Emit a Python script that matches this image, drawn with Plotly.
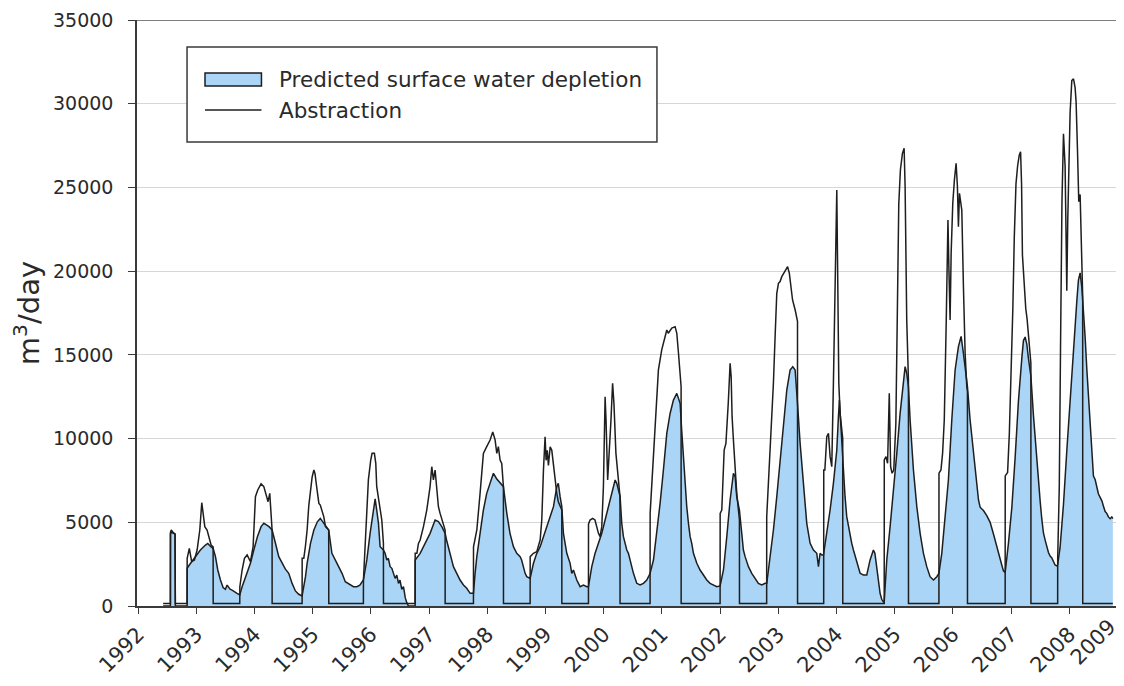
import plotly.graph_objects as go

# ---- data (decimal year, m3/day) ----
abstraction_year = [
    1992.430, 1992.555, 1992.556, 1992.570, 1992.600, 1992.635, 1992.640,
    1992.842, 1992.843, 1992.880, 1992.920, 1992.968, 1993.014, 1993.060, 1993.094, 1993.117,
    1993.146, 1993.185, 1993.214, 1993.254, 1993.289, 1993.290,
    1993.747, 1993.748, 1993.787, 1993.827, 1993.873, 1993.930, 1993.976, 1994.016, 1994.056,
    1994.113, 1994.160, 1994.205, 1994.233, 1994.262, 1994.290, 1994.302, 1994.303,
    1994.818, 1994.819, 1994.847, 1994.876, 1994.904, 1994.933, 1994.962, 1994.990, 1995.020,
    1995.040, 1995.060, 1995.083, 1995.106, 1995.130, 1995.160, 1995.190, 1995.220, 1995.248,
    1995.275, 1995.276,
    1995.871, 1995.872, 1995.900, 1995.930, 1995.957, 1995.997, 1996.020, 1996.060, 1996.084,
    1996.100, 1996.130, 1996.158, 1996.187, 1996.215, 1996.216,
    1996.760, 1996.761, 1996.790, 1996.817, 1996.846, 1996.903, 1996.960, 1997.017, 1997.046,
    1997.074, 1997.103, 1997.132, 1997.160, 1997.189, 1997.218, 1997.275, 1997.276,
    1997.762, 1997.763, 1997.820, 1997.876, 1997.933, 1997.990, 1998.048, 1998.094, 1998.134,
    1998.163, 1998.190, 1998.220, 1998.248, 1998.277, 1998.278,
    1998.736, 1998.737, 1998.793, 1998.850, 1998.908, 1998.936, 1998.965, 1998.993, 1999.010,
    1999.030, 1999.050, 1999.080, 1999.108, 1999.137, 1999.165, 1999.194, 1999.220, 1999.251,
    1999.280, 1999.281,
    1999.738, 1999.739, 1999.766, 1999.810, 1999.850, 1999.910, 1999.938, 1999.967, 1999.995,
    2000.024, 2000.040, 2000.068, 2000.096, 2000.125, 2000.153, 2000.176, 2000.210, 2000.230,
    2000.265, 2000.280, 2000.281,
    2000.797, 2000.798, 2000.855, 2000.880, 2000.912, 2000.940, 2000.997, 2001.055, 2001.084,
    2001.110, 2001.170, 2001.227, 2001.256, 2001.285, 2001.313, 2001.330, 2001.331,
    2002.000, 2002.001, 2002.029, 2002.070, 2002.100, 2002.140, 2002.172, 2002.190, 2002.206,
    2002.229, 2002.258, 2002.286, 2002.315, 2002.332, 2002.333,
    2002.800, 2002.801, 2002.831, 2002.859, 2002.888, 2002.916, 2002.945, 2002.974, 2003.003,
    2003.031, 2003.060, 2003.089, 2003.117, 2003.160, 2003.190, 2003.215, 2003.245, 2003.290,
    2003.318, 2003.330, 2003.331,
    2003.780, 2003.781, 2003.800, 2003.833, 2003.862, 2003.890, 2003.919, 2003.947, 2003.976,
    2004.005, 2004.022, 2004.040, 2004.062, 2004.090, 2004.107, 2004.108,
    2004.820, 2004.821, 2004.850, 2004.878, 2004.907, 2004.930, 2004.955, 2004.984, 2005.020,
    2005.040, 2005.070, 2005.098, 2005.133, 2005.162, 2005.179, 2005.207, 2005.225, 2005.236,
    2005.237,
    2005.760, 2005.761, 2005.795, 2005.823, 2005.852, 2005.886, 2005.915, 2005.932, 2005.952,
    2005.970, 2005.998, 2006.026, 2006.055, 2006.078, 2006.095, 2006.113, 2006.136, 2006.153,
    2006.181, 2006.210, 2006.239, 2006.250, 2006.251,
    2006.898, 2006.899, 2006.940, 2006.970, 2007.000, 2007.030, 2007.055, 2007.084, 2007.112,
    2007.140, 2007.163, 2007.180, 2007.195, 2007.212, 2007.230, 2007.252, 2007.275, 2007.300,
    2007.330, 2007.340, 2007.341,
    2007.800, 2007.801, 2007.828, 2007.850, 2007.874, 2007.900, 2007.928, 2007.945, 2007.957,
    2007.974, 2007.990, 2008.014, 2008.043, 2008.072, 2008.100, 2008.117, 2008.140, 2008.163,
    2008.186, 2008.203, 2008.220, 2008.230, 2008.231, 2008.748,
]
abstraction_m3day = [
    150, 150, 4400, 4540, 4400, 4300, 150,
    150, 2850, 3440, 2650, 2750, 3345, 4540, 6170, 5530,
    4740, 4540, 4140, 3640, 3540, 150,
    150, 1150, 2150, 2850, 3050, 2650, 3540, 6530, 6930,
    7300, 7130, 6530, 6230, 6730, 5530, 4540, 150,
    150, 2850, 2850, 3600, 4540, 6000, 7000, 7700, 8120,
    7900, 7330, 6530, 6130, 6030, 5630, 5340, 4740, 4640,
    4540, 150,
    150, 1550, 3345, 5930, 7550, 8720, 9118, 9118, 8520,
    7128, 6530, 5930, 5137, 3740, 150,
    150, 3146, 3146, 3740, 3940, 4740, 5730, 7130, 8320,
    7530, 8120, 6930, 5930, 5530, 5140, 4540, 150,
    150, 3540, 4540, 6730, 9118, 9517, 9915, 10400, 9915,
    9118, 9517, 8720, 8520, 7128, 150,
    150, 2950, 3146, 3250, 3942, 5137, 8120, 10100, 8700,
    9300, 8400, 9500, 9300, 8300, 7500, 6730, 6230, 5930,
    5735, 150,
    150, 4900, 5137, 5230, 5137, 4340, 4140, 4740, 7128,
    12500, 11110, 7530, 9118, 11110, 13300, 12100, 9118, 8322,
    6730, 6530, 150,
    150, 5535, 9118, 11110, 13101, 14100, 15300, 16090, 16485,
    16290, 16600, 16684, 16290, 15094, 14100, 13100, 150,
    150, 5535, 5734, 9318, 9716, 12105, 14494, 13698, 11309,
    9900, 8123, 6730, 5734, 5137, 150,
    150, 5336, 7326, 9700, 10900, 13300, 16087, 18676, 19273,
    19380, 19671, 19870, 20069, 20268, 19870, 19273, 18278, 17680,
    17282, 17000, 150,
    150, 8123, 8123, 10114, 10313, 8919, 8322, 13300, 19273,
    24847, 19273, 13300, 11500, 10500, 10000, 150,
    150, 8720, 8920, 8520, 12700, 8320, 7930, 8120, 10900,
    16087, 24000, 26042, 27038, 27337, 25046, 17083, 14500, 13500,
    150,
    150, 7930, 8123, 9118, 11110, 17083, 23055, 20069, 17083,
    21065, 24052, 25450, 26440, 25046, 22650, 24650, 24052, 23650,
    19074, 15094, 13101, 12800, 150,
    150, 7770, 7980, 10320, 13510, 17770, 22020, 25210, 26280,
    26920, 27130, 25210, 20960, 19900, 18830, 17770, 17130, 16280,
    15000, 14500, 150,
    150, 2870, 7130, 15640, 24150, 28200, 26280, 22020, 18830,
    23090, 26280, 29470, 31380, 31490, 30960, 30110, 27340, 24150,
    24580, 22020, 19900, 18500, 150, 150,
]

depletion_year = [
    1992.430, 1992.555, 1992.556, 1992.570, 1992.635, 1992.640, 1992.842, 1992.843, 1992.880,
    1992.985, 1993.070, 1993.157, 1993.197, 1993.250, 1993.289, 1993.329, 1993.369, 1993.415,
    1993.460, 1993.500, 1993.529, 1993.580, 1993.615, 1993.700, 1993.747, 1993.787, 1993.827,
    1993.873, 1993.930, 1993.988, 1994.050, 1994.113, 1994.160, 1994.205, 1994.250, 1994.302,
    1994.320, 1994.360, 1994.417, 1994.474, 1994.531, 1994.588, 1994.646, 1994.703, 1994.760,
    1994.818, 1994.850, 1994.876, 1994.904, 1994.933, 1994.962, 1995.020, 1995.080, 1995.130,
    1995.190, 1995.248, 1995.275, 1995.330, 1995.390, 1995.447, 1995.504, 1995.560, 1995.648,
    1995.700, 1995.760, 1995.810, 1995.871, 1995.930, 1995.986, 1996.044, 1996.073, 1996.100,
    1996.130, 1996.158, 1996.187, 1996.215, 1996.244, 1996.273, 1996.300, 1996.330, 1996.360,
    1996.388, 1996.416, 1996.445, 1996.474, 1996.500, 1996.530, 1996.560, 1996.590, 1996.617,
    1996.645, 1996.760, 1996.761, 1996.846, 1996.930, 1997.017, 1997.103, 1997.160, 1997.218,
    1997.275, 1997.300, 1997.361, 1997.418, 1997.475, 1997.532, 1997.590, 1997.647, 1997.705,
    1997.762, 1997.790, 1997.820, 1997.876, 1997.933, 1997.990, 1998.048, 1998.105, 1998.160,
    1998.220, 1998.277, 1998.335, 1998.390, 1998.449, 1998.506, 1998.564, 1998.590, 1998.650,
    1998.678, 1998.736, 1998.793, 1998.850, 1998.908, 1998.965, 1999.022, 1999.080, 1999.137,
    1999.194, 1999.220, 1999.251, 1999.280, 1999.308, 1999.337, 1999.366, 1999.423, 1999.451,
    1999.480, 1999.510, 1999.537, 1999.566, 1999.595, 1999.652, 1999.709, 1999.738, 1999.795,
    1999.852, 1999.910, 1999.967, 2000.024, 2000.080, 2000.138, 2000.196, 2000.225, 2000.282,
    2000.310, 2000.339, 2000.368, 2000.397, 2000.425, 2000.454, 2000.511, 2000.568, 2000.625,
    2000.683, 2000.740, 2000.770, 2000.797, 2000.855, 2000.912, 2000.969, 2001.026, 2001.084,
    2001.141, 2001.198, 2001.256, 2001.313, 2001.340, 2001.370, 2001.398, 2001.427, 2001.456,
    2001.485, 2001.513, 2001.542, 2001.600, 2001.656, 2001.714, 2001.771, 2001.828, 2001.886,
    2001.943, 2002.000, 2002.058, 2002.115, 2002.172, 2002.229, 2002.258, 2002.286, 2002.315,
    2002.332, 2002.372, 2002.400, 2002.430, 2002.487, 2002.544, 2002.601, 2002.658, 2002.716,
    2002.773, 2002.802, 2002.859, 2002.916, 2002.974, 2003.031, 2003.089, 2003.146, 2003.203,
    2003.249, 2003.289, 2003.318, 2003.330, 2003.375, 2003.432, 2003.489, 2003.547, 2003.604,
    2003.661, 2003.690, 2003.718, 2003.747, 2003.776, 2003.833, 2003.890, 2003.947, 2004.005,
    2004.033, 2004.050, 2004.073, 2004.107, 2004.147, 2004.176, 2004.234, 2004.262, 2004.291,
    2004.349, 2004.406, 2004.463, 2004.520, 2004.577, 2004.634, 2004.660, 2004.690, 2004.720,
    2004.749, 2004.777, 2004.806, 2004.821, 2004.864, 2004.921, 2004.978, 2005.036, 2005.093,
    2005.150, 2005.179, 2005.207, 2005.236, 2005.265, 2005.322, 2005.380, 2005.437, 2005.494,
    2005.551, 2005.608, 2005.666, 2005.723, 2005.760, 2005.809, 2005.866, 2005.923, 2005.981,
    2006.038, 2006.095, 2006.141, 2006.181, 2006.227, 2006.250, 2006.296, 2006.353, 2006.380,
    2006.410, 2006.440, 2006.468, 2006.525, 2006.582, 2006.640, 2006.697, 2006.754, 2006.811,
    2006.840, 2006.868, 2006.898, 2006.954, 2007.012, 2007.069, 2007.126, 2007.184, 2007.212,
    2007.241, 2007.270, 2007.298, 2007.340, 2007.384, 2007.442, 2007.470, 2007.499, 2007.527,
    2007.556, 2007.585, 2007.613, 2007.642, 2007.671, 2007.700, 2007.728, 2007.756, 2007.785,
    2007.800, 2007.842, 2007.900, 2007.957, 2008.014, 2008.072, 2008.129, 2008.157, 2008.186,
    2008.215, 2008.232, 2008.244, 2008.272, 2008.301, 2008.330, 2008.358, 2008.387, 2008.415,
    2008.444, 2008.473, 2008.500, 2008.530, 2008.560, 2008.587, 2008.616, 2008.644, 2008.673,
    2008.702, 2008.730, 2008.748,
]
depletion_m3day = [
    0, 0, 4300, 4400, 4300, 0, 0, 2250, 2450,
    2950, 3345, 3640, 3740, 3540, 3445, 2950, 2150, 1550,
    1100, 1000, 1250, 1000, 950, 760, 660, 1150, 1550,
    1950, 2550, 3345, 4140, 4740, 4940, 4840, 4740, 4540,
    4340, 3750, 2950, 2550, 2200, 1950, 1350, 900, 700,
    600, 1150, 1750, 2550, 3150, 3740, 4540, 5030, 5230,
    4940, 4640, 4540, 3150, 2750, 2350, 1950, 1450, 1250,
    1150, 1150, 1250, 1550, 2750, 4340, 5535, 6400, 5735,
    4940, 3544, 3440, 3345, 3146, 2748, 2850, 2349, 2250,
    1951, 1650, 1850, 1350, 1550, 1000, 1155, 500, 200,
    0, 0, 2748, 3146, 3740, 4340, 5137, 5040, 4740,
    4340, 3942, 3146, 2349, 1951, 1553, 1255, 1055, 757,
    757, 1950, 2950, 4340, 5734, 6730, 7330, 7924, 7600,
    7330, 7128, 5535, 4340, 3544, 3146, 2950, 2748, 1951,
    1750, 1652, 2549, 3146, 3544, 4140, 4740, 5337, 5933,
    7128, 7330, 6530, 5933, 4340, 3740, 3146, 2549, 1951,
    2150, 1750, 1553, 1354, 1155, 1254, 1155, 1155, 2349,
    3146, 3740, 4340, 5137, 5933, 6730, 7526, 7330, 6530,
    4940, 4140, 3740, 3345, 3146, 2748, 1951, 1354, 1254,
    1354, 1553, 1750, 1951, 2748, 4340, 6130, 8120, 10313,
    11500, 12300, 12700, 12106, 10510, 8720, 7128, 5933, 4940,
    4140, 3740, 3146, 2549, 2150, 1852, 1553, 1354, 1254,
    1155, 1200, 2150, 4140, 6330, 7920, 7730, 6530, 6130,
    5734, 4340, 3345, 2947, 2350, 1950, 1650, 1354, 1254,
    1354, 1354, 2947, 4540, 6530, 8720, 10910, 12900, 14096,
    14295, 14096, 12900, 12100, 9716, 7326, 4938, 3743, 3345,
    3146, 2350, 3146, 3046, 3046, 4340, 5734, 7326, 9318,
    11300, 12300, 10900, 8520, 6530, 5336, 4141, 3743, 3345,
    2549, 1951, 1852, 1850, 2750, 3345, 3146, 2350, 1354,
    757, 400, 250, 300, 2750, 4738, 6730, 9118, 11508,
    13499, 14295, 13897, 13101, 11110, 8123, 5933, 4340, 3146,
    2350, 1752, 1553, 1752, 1951, 3146, 5137, 7526, 11110,
    14096, 15490, 16100, 15094, 13900, 13101, 11110, 9118, 8123,
    7128, 6331, 5900, 5700, 5400, 5000, 4300, 3500, 2800,
    2450, 2100, 2000, 3724, 5852, 8831, 12236, 14790, 15854,
    16066, 15641, 14790, 13726, 11385, 8618, 7554, 6278, 5214,
    4362, 3937, 3511, 3192, 2979, 2873, 2660, 2447, 2400,
    2450, 3511, 6065, 9257, 12449, 15641, 18194, 19471, 19897,
    19046, 18194, 17769, 16066, 14151, 12449, 10959, 9257, 7767,
    7554, 7129, 6703, 6490, 6278, 5958, 5639, 5533, 5320,
    5214, 5320, 5214,
]

series_names = ["Predicted surface water depletion", "Abstraction"]
year_ticks = list(range(1992, 2010))
y_ticks = list(range(0, 35001, 5000))

FONT = "DejaVu Sans"
TXT = "#2a2a2a"
AXC = "#3a3a3a"
BLUE = "rgb(170,213,246)"
LINE = "#1e1e1e"

X0, X1 = 1991.981, 2008.940   # visible x range (the right end is cropped as in the reference)

fig = go.Figure()
fig.add_trace(go.Scatter(
    x=depletion_year, y=depletion_m3day, mode="lines", fill="tozeroy",
    fillcolor=BLUE, line=dict(color=LINE, width=1.5),
    name=series_names[0], showlegend=False,
))
fig.add_trace(go.Scatter(
    x=abstraction_year, y=abstraction_m3day, mode="lines",
    line=dict(color=LINE, width=1.5), name=series_names[1], showlegend=False,
))

shapes = [
    dict(type="line", xref="paper", yref="y", x0=0, x1=1, y0=35000, y1=35000,
         line=dict(color="#555555", width=1.5)),
    # legend frame and symbols (paper coordinates of the plot area)
    dict(type="rect", xref="paper", yref="paper", x0=0.0507, x1=0.5268, y0=0.7918, y1=0.9539,
         line=dict(color="#3a3a3a", width=1.5), fillcolor="white", layer="above"),
    dict(type="rect", xref="paper", yref="paper", x0=0.0689, x1=0.1261, y0=0.8874, y1=0.9096,
         line=dict(color=LINE, width=1.5), fillcolor=BLUE, layer="above"),
    dict(type="line", xref="paper", yref="paper", x0=0.0689, x1=0.1261, y0=0.8464, y1=0.8464,
         line=dict(color=LINE, width=1.5), layer="above"),
]
annotations = [
    dict(xref="paper", yref="paper", x=0.1415, y=0.8993, xanchor="left", yanchor="middle",
         text=series_names[0], showarrow=False, font=dict(family=FONT, size=21.5, color=TXT)),
    dict(xref="paper", yref="paper", x=0.1415, y=0.8464, xanchor="left", yanchor="middle",
         text=series_names[1], showarrow=False, font=dict(family=FONT, size=21.5, color=TXT)),
    # last year label sits just past the cropped right edge of the axis
    dict(xref="paper", yref="paper", x=(year_ticks[-1] - X0) / (X1 - X0) - 0.0045, y=-0.0095,
         xanchor="right", yanchor="top", text=str(year_ticks[-1]), textangle=-45,
         showarrow=False, font=dict(family=FONT, size=21, color=TXT)),
]

fig.update_layout(
    width=1116, height=670,
    margin=dict(l=129, r=0, t=12, b=72),
    paper_bgcolor="white", plot_bgcolor="white",
    font=dict(family=FONT, size=19, color=TXT),
    showlegend=False,
    xaxis=dict(
        range=[X0, X1], tickvals=year_ticks, ticktext=[str(y) for y in year_ticks],
        tickangle=-45, ticks="outside", ticklen=6, tickcolor=AXC, tickwidth=1.3,
        showline=True, linecolor=AXC, linewidth=1.5, showgrid=False, zeroline=False,
        tickfont=dict(family=FONT, size=21, color=TXT),
    ),
    yaxis=dict(
        range=[0, 35000], tickvals=y_ticks, tickformat="d",
        ticks="outside", ticklen=7, tickcolor=AXC, tickwidth=1.3,
        showline=True, linecolor=AXC, linewidth=1.5,
        showgrid=True, gridcolor="#d6d6d6", gridwidth=1, zeroline=False,
        tickfont=dict(family=FONT, size=19, color=TXT),
        ticklabelstandoff=11,
        title=dict(text="m<sup>3</sup>/day", font=dict(family=FONT, size=29, color=TXT), standoff=8),
    ),
    shapes=shapes,
    annotations=annotations,
)

fig.write_html("out.html")
